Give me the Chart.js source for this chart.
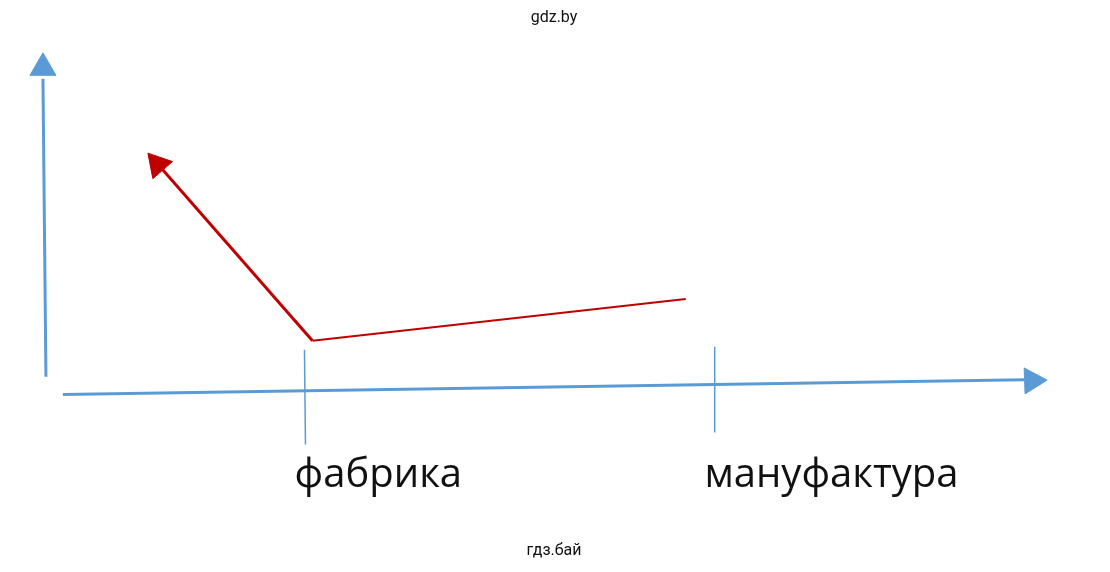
<!DOCTYPE html>
<html><head><meta charset="utf-8">
<script src="https://cdn.jsdelivr.net/npm/chart.js"></script>
<style>html,body{margin:0;padding:0;background:#fff}#w{width:1110px;height:572px}</style>
</head><body><div id="w"><canvas id="c"></canvas></div>
<script>
// diagram geometry in canvas-like units (x right, y down)
const yAxisLine = [{x:45,y:377},{x:42,y:78}];
const xAxisLine = [{x:62,y:395},{x:1025,y:380}];
const tickFactory = [{x:304,y:350},{x:305,y:445}];
const tickManuf = [{x:715,y:347},{x:715,y:433}];
const redUp = [{x:312,y:341},{x:160,y:167}];
const redFlat = [{x:312,y:341},{x:686,y:299}];
const arrowHeads = [{x:42,y:67,rot:0,c:'#5b9bd5'},{x:1033,y:381,rot:88,c:'#5b9bd5'},{x:157,y:164,rot:-41,c:'#c00000'}];
const labels = [{t:'фабрика',x:378,y:476,s:40},{t:'мануфактура',x:832,y:476,s:40},{t:'gdz.by',x:554,y:17,s:16},{t:'гдз.бай',x:554,y:552,s:16}];
const blue='#5b9bd5', red='#c00000';
function seg(d,c,w){return {data:d,borderColor:c,borderWidth:w,showLine:true,pointRadius:0,fill:false};}
const textPlugin={id:'txt',afterDraw(ch){const g=ch.ctx,xs=ch.scales.x,ys=ch.scales.y;g.save();g.fillStyle='#111';g.textAlign='center';g.textBaseline='middle';
 labels.forEach(l=>{g.font=l.s+'px "Open Sans", Roboto, sans-serif';if(l.s<20)g.font=l.s+'px Roboto, sans-serif';g.fillText(l.t,xs.getPixelForValue(l.x),ys.getPixelForValue(l.y));});g.restore();}};
new Chart(document.getElementById('c'),{type:'scatter',
 data:{datasets:[seg(yAxisLine,blue,3),seg(xAxisLine,blue,3),seg(tickFactory,blue,1.5),seg(tickManuf,blue,1.5),seg(redUp,red,3),seg(redFlat,red,2),
  {data:arrowHeads.map(a=>({x:a.x,y:a.y})),pointStyle:'triangle',pointRadius:15,pointRotation:arrowHeads.map(a=>a.rot),
   pointBackgroundColor:arrowHeads.map(a=>a.c),pointBorderColor:arrowHeads.map(a=>a.c),showLine:false}]},
 options:{responsive:true,maintainAspectRatio:false,animation:false,layout:{padding:0},
  plugins:{legend:{display:false},tooltip:{enabled:false}},
  scales:{x:{type:'linear',min:15,max:1095,display:false},y:{type:'linear',min:15,max:557,reverse:true,display:false}}},
 plugins:[textPlugin]});
</script></body></html>
